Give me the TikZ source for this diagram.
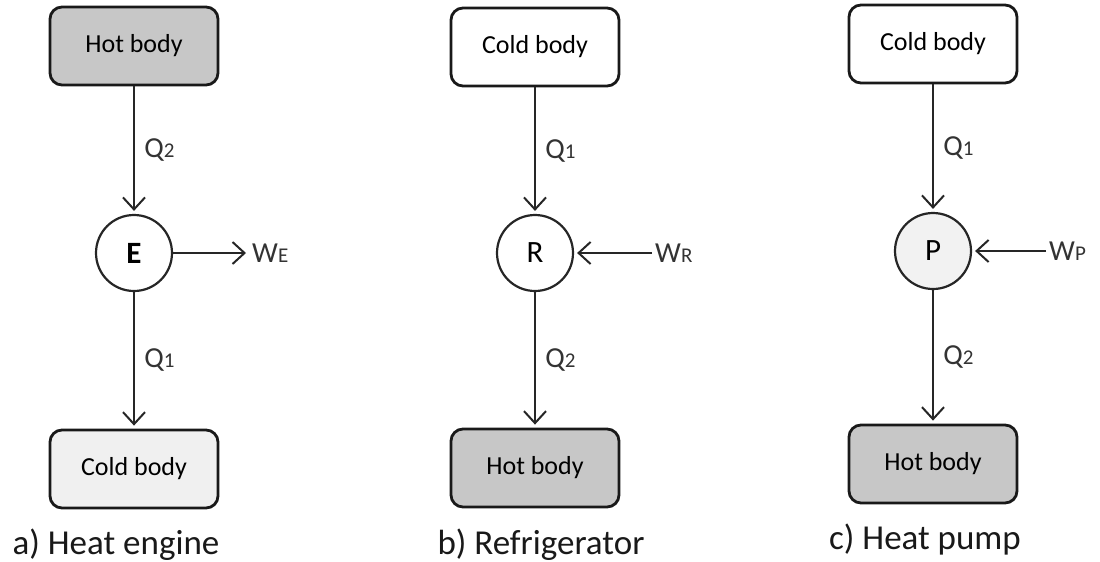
\documentclass[tikz,border=0pt]{standalone}
\usepackage{fontspec}
\setmainfont{Carlito}
\usetikzlibrary{arrows.meta}
\tikzset{
  body/.style={draw=black!90, line width=2.8pt, rounded corners=12pt,
    minimum width=168pt, minimum height=78pt, inner sep=0pt,
    font=\fontsize{26}{30}\selectfont},
  hot/.style={body, fill=black!22},
  cold/.style={body, fill=white},
  coldtint/.style={body, fill=black!6},
  machine/.style={circle, draw=black!85, line width=2.2pt, minimum size=76pt,
    inner sep=0pt, font=\fontsize{31}{34}\selectfont},
  flow/.style={draw=black!85, line width=2pt,
    -{Straight Barb[length=12pt, width=22pt, line width=2pt]}, shorten >=3pt},
  qlab/.style={right, xshift=6pt, text=black!80, font=\fontsize{29}{32}\selectfont},
  wlab/.style={right, inner sep=3pt, text=black!80, font=\fontsize{29}{32}\selectfont},
  caption/.style={font=\fontsize{35}{40}\selectfont, text=black!90}
}
\newcommand{\sm}[1]{{\fontsize{21}{24}\selectfont #1}}
\begin{document}
\begin{tikzpicture}[x=1pt, y=-1pt]
\useasboundingbox (0,0) rectangle (1100,562);

% a) heat engine
\node[hot] (ha) at (134,46) {Hot body};
\node[machine] (E) at (134,253) {\textbf{E}};
\node[coldtint] (ca) at (134,469) {Cold body};
\node[caption] (capa) at (116,545) {a) Heat engine};
\coordinate (wa) at (249,253);
\draw[flow] (ha) -- node[qlab] {Q\sm{2}} (E);
\draw[flow] (E) -- node[qlab] {Q\sm{1}} (ca);
\draw[flow] (E) -- (wa);
\node[wlab] (wal) at (wa) {W\sm{E}};

% b) refrigerator
\node[cold] (cb) at (535,47) {Cold body};
\node[machine] (R) at (535,253) {R};
\node[hot] (hb) at (535,468) {Hot body};
\node[caption] (capb) at (541,545) {b) Refrigerator};
\coordinate (wb) at (652,253);
\draw[flow] (cb) -- node[qlab] {Q\sm{1}} (R);
\draw[flow] (R) -- node[qlab] {Q\sm{2}} (hb);
\draw[flow] (wb) -- (R);
\node[wlab] (wbl) at (wb) {W\sm{R}};

% c) heat pump
\node[cold] (cc) at (933,44) {Cold body};
\node[machine, fill=black!5] (P) at (933,251) {P};
\node[hot] (hc) at (933,464) {Hot body};
\node[caption] (capc) at (925,540) {c) Heat pump};
\coordinate (wc) at (1046,251);
\draw[flow] (cc) -- node[qlab] {Q\sm{1}} (P);
\draw[flow] (P) -- node[qlab] {Q\sm{2}} (hc);
\draw[flow] (wc) -- (P);
\node[wlab] (wcl) at (wc) {W\sm{P}};
\end{tikzpicture}
\end{document}
